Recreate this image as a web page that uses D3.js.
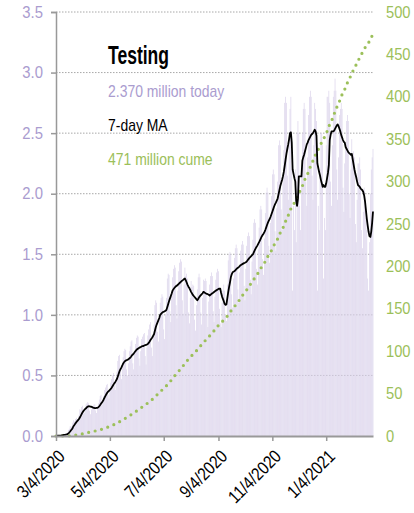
<!DOCTYPE html>
<html>
<head lang="en">
    <meta charset="UTF-8">
    <title>Testing</title>
    <script src="https://cdn.jsdelivr.net/npm/d3@7/dist/d3.min.js" charset="utf-8"></script>
    <style>
        body { margin: 0; background: #fff; }
        svg text { font-family: "Liberation Sans", Arial, sans-serif; }
    </style>
</head>
<body>
    <script>
        // daily tests, millions, one value per day starting 3/4/2020
        var startDate = "3/4/2020";
        var dailyTests = [
            0.00, 0.00, 0.01, 0.00, 0.00, 0.01, 0.01,
            0.01, 0.01, 0.02, 0.01, 0.01, 0.02, 0.03,
            0.05, 0.06, 0.08, 0.08, 0.07, 0.11, 0.13,
            0.12, 0.14, 0.15, 0.14, 0.13, 0.17, 0.22,
            0.21, 0.24, 0.25, 0.22, 0.19, 0.23, 0.26,
            0.27, 0.28, 0.27, 0.21, 0.18, 0.22, 0.24,
            0.24, 0.26, 0.26, 0.21, 0.19, 0.23, 0.27,
            0.30, 0.33, 0.34, 0.28, 0.26, 0.33, 0.38,
            0.40, 0.42, 0.43, 0.34, 0.31, 0.38, 0.44,
            0.47, 0.50, 0.52, 0.42, 0.38, 0.47, 0.53,
            0.62, 0.66, 0.67, 0.53, 0.47, 0.58, 0.65,
            0.70, 0.72, 0.71, 0.55, 0.50, 0.60, 0.70,
            0.74, 0.78, 0.79, 0.60, 0.55, 0.68, 0.76,
            0.81, 0.83, 0.82, 0.64, 0.58, 0.70, 0.80,
            0.82, 0.84, 0.85, 0.66, 0.59, 0.73, 0.83,
            0.88, 0.92, 0.94, 0.73, 0.66, 0.83, 0.92,
            1.08, 1.12, 1.10, 0.86, 0.78, 0.96, 1.10,
            1.14, 1.17, 1.15, 0.88, 0.80, 1.00, 1.14,
            1.30, 1.34, 1.33, 1.03, 0.94, 1.15, 1.31,
            1.38, 1.41, 1.39, 1.08, 0.97, 1.20, 1.36,
            1.43, 1.46, 1.44, 1.12, 1.01, 1.25, 1.39,
            1.32, 1.34, 1.30, 1.02, 0.93, 1.14, 1.28,
            1.23, 1.25, 1.24, 0.96, 0.87, 1.08, 1.21,
            1.31, 1.34, 1.31, 1.02, 0.92, 1.14, 1.29,
            1.28, 1.30, 1.28, 1.00, 0.90, 1.11, 1.25,
            1.32, 1.35, 1.32, 1.03, 0.94, 1.15, 1.29,
            1.35, 1.38, 1.36, 1.05, 0.93, 0.90, 1.10,
            1.20, 1.25, 1.20, 1.00, 0.95, 1.25, 1.45,
            1.50, 1.52, 1.50, 1.17, 1.06, 1.30, 1.47,
            1.55, 1.58, 1.55, 1.21, 1.10, 1.35, 1.53,
            1.58, 1.61, 1.58, 1.24, 1.12, 1.38, 1.57,
            1.65, 1.68, 1.65, 1.29, 1.17, 1.44, 1.62,
            1.76, 1.79, 1.76, 1.38, 1.25, 1.54, 1.72,
            1.87, 1.90, 1.87, 1.46, 1.33, 1.63, 1.84,
            2.01, 2.05, 2.01, 1.57, 1.43, 1.76, 1.98,
            2.16, 2.20, 2.16, 1.69, 1.53, 1.88, 2.10,
            2.40, 2.44, 2.40, 1.87, 1.70, 2.09, 2.36,
            2.75, 2.80, 2.75, 2.15, 1.95, 2.40, 2.70,
            2.80, 2.20, 1.20, 1.90, 1.70, 2.20, 1.60,
            2.50, 2.60, 2.50, 1.90, 1.70, 2.20, 2.50,
            2.70, 2.75, 2.70, 2.10, 1.90, 2.30, 2.65,
            2.80, 2.85, 2.80, 2.15, 1.95, 2.40, 2.75,
            2.70, 2.60, 1.20, 1.90, 1.70, 2.20, 2.50,
            2.50, 2.40, 1.30, 1.80, 1.70, 2.40, 2.80,
            2.80, 2.85, 2.75, 2.10, 1.90, 2.40, 2.80,
            2.85, 2.95, 2.85, 2.20, 1.95, 2.30, 2.65,
            2.70, 2.75, 2.70, 2.05, 1.85, 2.25, 2.40,
            2.60, 2.65, 2.60, 2.00, 1.80, 2.20, 2.45,
            2.30, 2.35, 2.30, 1.75, 1.60, 1.95, 2.25,
            2.25, 2.30, 2.20, 1.70, 1.55, 1.85, 2.05,
            1.90, 1.80, 1.70, 1.30, 1.20, 1.60, 2.00,
            2.20, 2.30, 2.37
        ];
        var xTickLabels = ["3/4/2020", "5/4/2020", "7/4/2020", "9/4/2020", "11/4/2020", "1/4/2021"];
        var leftTicks = [0, 0.5, 1.0, 1.5, 2.0, 2.5, 3.0, 3.5];
        var rightTicks = [0, 50, 100, 150, 200, 250, 300, 350, 400, 450, 500];
        var legendLines = ["2.370 million today", "7-day MA", "471 million cume"];

        var W = 414, H = 513;
        var margin = {top: 12, right: 41, bottom: 77, left: 56};
        var w = W - margin.left - margin.right;
        var h = H - margin.top - margin.bottom;

        var purple = "#aa9ccf", green = "#9cc05a", grid = "#a8a8a8", axisGrey = "#999";

        // squeeze text horizontally to mimic a condensed face
        function narrow(sel, k) {
            sel.each(function () {
                var len = this.getComputedTextLength();
                d3.select(this).attr("textLength", len * k).attr("lengthAdjust", "spacingAndGlyphs");
            });
        }

        var parse = d3.timeParse("%m/%d/%Y");
        var t0 = parse(startDate);
        var days = dailyTests.map(function (v, i) { return d3.timeDay.offset(t0, i); });
        var ma = dailyTests.map(function (v, i) {
            return d3.mean(dailyTests.slice(Math.max(0, i - 6), i + 1));
        });
        var cume = Array.from(d3.cumsum(dailyTests));

        var svg = d3.select("body")
                .append("svg")
                .attr("width", W)
                .attr("height", H);
        var g = svg.append("g").attr("transform", "translate(" + margin.left + "," + margin.top + ")");

        var x = d3.scaleTime().domain([t0, days[days.length - 1]]).range([0, w]);
        var y = d3.scaleLinear().domain([0, 3.5]).range([h, 0]);
        var y2 = d3.scaleLinear().domain([0, 500]).range([h, 0]);

        // dotted gridlines
        g.selectAll(".grid")
                .data(leftTicks.slice(1))
                .enter()
                .append("line")
                .attr("x1", 0).attr("x2", w)
                .attr("y1", function (d) { return y(d); })
                .attr("y2", function (d) { return y(d); })
                .attr("stroke", grid)
                .attr("stroke-width", 1)
                .attr("stroke-dasharray", "1.5,1.5");

        // daily bars
        var bw = w / (days.length - 1) * 0.75;
        g.selectAll(".bar")
                .data(dailyTests)
                .enter()
                .append("rect")
                .attr("x", function (d, i) { return x(days[i]) - bw / 2; })
                .attr("y", function (d) { return y(d); })
                .attr("width", bw)
                .attr("height", function (d) { return h - y(d); })
                .attr("fill", "#d9d1ea");

        // cumulative, dotted
        g.append("path")
                .datum(cume)
                .attr("fill", "none")
                .attr("stroke", green)
                .attr("stroke-width", 3.2)
                .attr("stroke-linecap", "round")
                .attr("stroke-dasharray", "0,6.6")
                .attr("d", d3.line()
                        .x(function (d, i) { return x(days[i]); })
                        .y(function (d) { return y2(d); }));

        // 7-day MA
        g.append("path")
                .datum(ma)
                .attr("fill", "none")
                .attr("stroke", "#000")
                .attr("stroke-width", 1.8)
                .attr("stroke-linejoin", "round")
                .attr("d", d3.line()
                        .x(function (d, i) { return x(days[i]); })
                        .y(function (d) { return y(d); }));

        // left axis
        var yAxis = g.append("g")
                .call(d3.axisLeft(y).tickValues(leftTicks).tickFormat(d3.format(".1f")).tickSize(5).tickPadding(8));
        yAxis.select(".domain").attr("stroke", axisGrey).attr("stroke-width", 1.5);
        yAxis.selectAll(".tick line").attr("stroke", axisGrey).attr("stroke-width", 1.5);
        yAxis.selectAll("text").attr("fill", purple).attr("font-size", 16.5)
                .style("font-family", "'Liberation Sans', Arial, sans-serif")
                .call(narrow, 0.9);

        // right axis, labels only
        var y2Axis = g.append("g")
                .attr("transform", "translate(" + w + ",0)")
                .call(d3.axisRight(y2).tickValues(rightTicks).tickSize(0).tickPadding(13));
        y2Axis.select(".domain").remove();
        y2Axis.selectAll("text").attr("fill", green).attr("font-size", 16)
                .style("font-family", "'Liberation Sans', Arial, sans-serif")
                .call(narrow, 0.92);

        // bottom axis
        var xAxis = g.append("g")
                .attr("transform", "translate(0," + h + ")")
                .call(d3.axisBottom(x).tickValues(xTickLabels.map(parse))
                        .tickFormat(function (d, i) { return xTickLabels[i]; })
                        .tickSize(5).tickSizeOuter(0));
        xAxis.select(".domain").attr("stroke", axisGrey).attr("stroke-width", 2);
        xAxis.selectAll(".tick line").attr("stroke", axisGrey).attr("stroke-width", 1.5);
        xAxis.selectAll("text")
                .attr("fill", "#000")
                .attr("font-size", 18)
                .attr("text-anchor", "end")
                .attr("x", 0).attr("y", 0).attr("dy", "0.35em")
                .attr("transform", "translate(5,17) rotate(-45)")
                .style("font-family", "'Liberation Sans', Arial, sans-serif")
                .call(narrow, 0.84);

        // legend block
        var leg = svg.append("g").attr("transform", "translate(108,0)");
        leg.append("text")
                .attr("x", 0).attr("y", 64)
                .attr("font-size", 26)
                .attr("font-weight", "bold")
                .attr("textLength", 61)
                .attr("lengthAdjust", "spacingAndGlyphs")
                .text("Testing");
        leg.selectAll(".leg")
                .data(legendLines)
                .enter()
                .append("text")
                .attr("x", 0)
                .attr("y", function (d, i) { return 97 + i * 34; })
                .attr("font-size", 17)
                .attr("fill", function (d, i) { return [purple, "#000", green][i]; })
                .text(function (d) { return d; })
                .call(narrow, 0.82);
    </script>
</body>
</html>
